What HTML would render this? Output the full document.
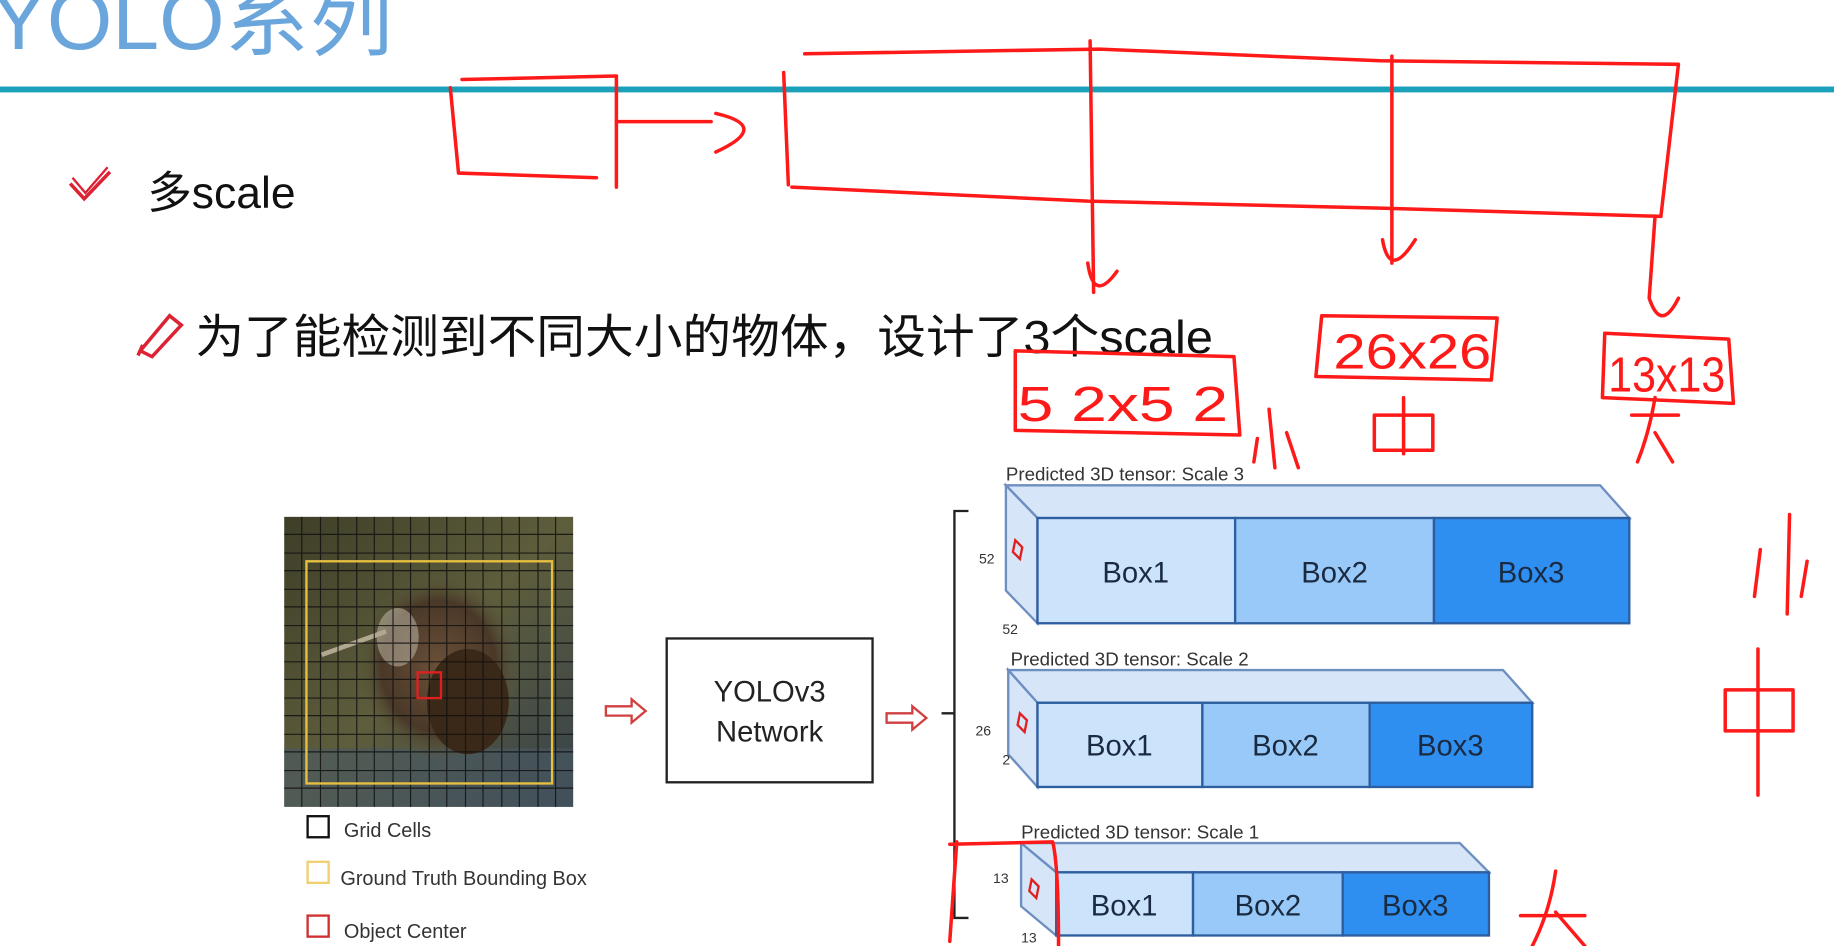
<!DOCTYPE html>
<html><head><meta charset="utf-8"><style>
html,body{margin:0;padding:0;background:#fff;}
svg{display:block;}
</style></head><body>
<svg width="1834" height="946" viewBox="0 0 1568 809" preserveAspectRatio="none" xmlns="http://www.w3.org/2000/svg" font-family="Liberation Sans, Noto Sans CJK SC, sans-serif">
<defs>
<linearGradient id="bg" x1="0" y1="0" x2="1" y2="1">
<stop offset="0" stop-color="#3e3e28"/><stop offset="0.5" stop-color="#5e5d3c"/><stop offset="1" stop-color="#34414c"/>
</linearGradient>
<radialGradient id="bird" cx="0.5" cy="0.5" r="0.5">
<stop offset="0" stop-color="#6a5038"/><stop offset="0.7" stop-color="#4a3828"/><stop offset="1" stop-color="#5e5d3c" stop-opacity="0"/>
</radialGradient>
</defs>
<rect width="1568" height="809" fill="#fff"/>
<!-- title -->
<text x="-8" y="42" font-size="72" fill="#6aa6dc" font-family="Liberation Sans Narrow, Liberation Sans, Noto Sans CJK SC, sans-serif">YOLO系列</text>
<rect x="0" y="74" width="1568" height="5" fill="#1aa0b8"/>
<!-- bullets -->
<path d="M60 157 L72 170 L94 147" fill="none" stroke="#d23" stroke-width="3"/>
<path d="M62 152 L73 165 L92 143" fill="none" stroke="#d23" stroke-width="2"/>
<text x="126" y="178" font-size="38" fill="#111">多scale</text>
<path d="M120 300 L145 270 L155 278 L130 305 Z M118 304 L122 295" fill="none" stroke="#d23" stroke-width="3"/>
<text x="167" y="302" font-size="40" fill="#111" textLength="870" lengthAdjust="spacingAndGlyphs">为了能检测到不同大小的物体，设计了3个scale</text>
<!-- bird image -->
<rect x="243" y="442" width="247" height="248" fill="url(#bg)"/>
<rect x="243" y="640" width="247" height="50" fill="#4a5a66" opacity="0.6"/>
<ellipse cx="375" cy="570" rx="70" ry="80" fill="url(#bird)"/>
<ellipse cx="340" cy="545" rx="18" ry="25" fill="#c8c0b0" opacity="0.5"/>
<ellipse cx="400" cy="600" rx="35" ry="45" fill="#3a2818"/>
<path d="M275 560 L330 540" stroke="#b0a890" stroke-width="4"/>
<g stroke="#111" stroke-width="1" opacity="0.85">
<path d="M258 442V690M274 442V690M289 442V690M305 442V690M320 442V690M336 442V690M351 442V690M367 442V690M382 442V690M398 442V690M413 442V690M429 442V690M444 442V690M460 442V690M475 442V690"/>
<path d="M243 457H490M243 473H490M243 488H490M243 504H490M243 519H490M243 535H490M243 550H490M243 566H490M243 581H490M243 597H490M243 612H490M243 628H490M243 643H490M243 659H490M243 674H490"/>
</g>
<rect x="262" y="480" width="210" height="190" fill="none" stroke="#e8c040" stroke-width="2"/>
<rect x="357" y="575" width="20" height="22" fill="none" stroke="#e02020" stroke-width="2"/>
<!-- legend -->
<rect x="263" y="698" width="18" height="18" fill="none" stroke="#111" stroke-width="2"/>
<text x="294" y="716" font-size="17" fill="#333">Grid Cells</text>
<rect x="263" y="737" width="18" height="18" fill="none" stroke="#f0d070" stroke-width="2"/>
<text x="291" y="757" font-size="17" fill="#333">Ground Truth Bounding Box</text>
<rect x="263" y="783" width="18" height="18" fill="none" stroke="#d03030" stroke-width="2"/>
<text x="294" y="802" font-size="17" fill="#333">Object Center</text>
<!-- arrows -->
<path d="M518 604H540V598L552 608L540 618V612H518Z" fill="none" stroke="#d04040" stroke-width="2"/>
<path d="M758 610H780V604L792 614L780 624V618H758Z" fill="none" stroke="#d04040" stroke-width="2"/>
<!-- network box -->
<rect x="570" y="546" width="176" height="123" fill="#fff" stroke="#222" stroke-width="2"/>
<text x="658" y="600" font-size="25" fill="#222" text-anchor="middle">YOLOv3</text>
<text x="658" y="634" font-size="25" fill="#222" text-anchor="middle">Network</text>
<!-- bracket -->
<path d="M828 437H816V785H828M816 610H805" fill="none" stroke="#222" stroke-width="2"/>
<!-- tensor 3 -->
<text x="860" y="411" font-size="16" fill="#333">Predicted 3D tensor: Scale 3</text>
<path d="M860 415H1368L1393 443H887Z" fill="#d6e6f8" stroke="#6c8ec0" stroke-width="2"/>
<path d="M860 415L887 443V533L860 505Z" fill="#d6e6f8" stroke="#6c8ec0" stroke-width="2"/>
<rect x="887" y="443" width="169" height="90" fill="#cce4fb" stroke="#2d5fa0" stroke-width="2"/>
<rect x="1056" y="443" width="170" height="90" fill="#99c9f8" stroke="#2d5fa0" stroke-width="2"/>
<rect x="1226" y="443" width="167" height="90" fill="#2f8ff0" stroke="#2d5fa0" stroke-width="2"/>
<text x="971" y="498" font-size="25" fill="#1a2a40" text-anchor="middle">Box1</text>
<text x="1141" y="498" font-size="25" fill="#1a2a40" text-anchor="middle">Box2</text>
<text x="1309" y="498" font-size="25" fill="#1a2a40" text-anchor="middle">Box3</text>
<path d="M868 462l6 6-2 10-6-6z" fill="none" stroke="#e02020" stroke-width="2"/>
<text x="837" y="482" font-size="12" fill="#333">52</text>
<text x="857" y="542" font-size="12" fill="#333">52</text>
<!-- tensor 2 -->
<text x="864" y="569" font-size="16" fill="#333">Predicted 3D tensor: Scale 2</text>
<path d="M862 573H1285L1310 601H887Z" fill="#d6e6f8" stroke="#6c8ec0" stroke-width="2"/>
<path d="M862 573L887 601V673L862 645Z" fill="#d6e6f8" stroke="#6c8ec0" stroke-width="2"/>
<rect x="887" y="601" width="141" height="72" fill="#cce4fb" stroke="#2d5fa0" stroke-width="2"/>
<rect x="1028" y="601" width="143" height="72" fill="#99c9f8" stroke="#2d5fa0" stroke-width="2"/>
<rect x="1171" y="601" width="139" height="72" fill="#2f8ff0" stroke="#2d5fa0" stroke-width="2"/>
<text x="957" y="646" font-size="25" fill="#1a2a40" text-anchor="middle">Box1</text>
<text x="1099" y="646" font-size="25" fill="#1a2a40" text-anchor="middle">Box2</text>
<text x="1240" y="646" font-size="25" fill="#1a2a40" text-anchor="middle">Box3</text>
<path d="M872 610l6 6-2 10-6-6z" fill="none" stroke="#e02020" stroke-width="2"/>
<text x="834" y="629" font-size="12" fill="#333">26</text>
<text x="857" y="654" font-size="12" fill="#333">2</text>
<!-- tensor 1 -->
<text x="873" y="717" font-size="16" fill="#333">Predicted 3D tensor: Scale 1</text>
<path d="M873 721H1248L1273 746H903Z" fill="#d6e6f8" stroke="#6c8ec0" stroke-width="2"/>
<path d="M873 721L903 746V800L873 775Z" fill="#d6e6f8" stroke="#6c8ec0" stroke-width="2"/>
<rect x="903" y="746" width="117" height="54" fill="#cce4fb" stroke="#2d5fa0" stroke-width="2"/>
<rect x="1020" y="746" width="128" height="54" fill="#99c9f8" stroke="#2d5fa0" stroke-width="2"/>
<rect x="1148" y="746" width="125" height="54" fill="#2f8ff0" stroke="#2d5fa0" stroke-width="2"/>
<text x="961" y="783" font-size="25" fill="#1a2a40" text-anchor="middle">Box1</text>
<text x="1084" y="783" font-size="25" fill="#1a2a40" text-anchor="middle">Box2</text>
<text x="1210" y="783" font-size="25" fill="#1a2a40" text-anchor="middle">Box3</text>
<path d="M882 752l6 6-2 10-6-6z" fill="none" stroke="#e02020" stroke-width="2"/>
<text x="849" y="755" font-size="12" fill="#333">13</text>
<text x="873" y="806" font-size="12" fill="#333">13</text>
<!-- red annotations -->
<g fill="none" stroke="#ff1a1a" stroke-width="3" stroke-linecap="round" stroke-linejoin="round">
<path d="M395 68L527 65L527 160M385 75L392 148L510 152"/>
<path d="M527 104H608M612 97Q660 108 612 130"/>
<path d="M670 62L674 158"/>
<path d="M688 46L940 42L1180 52L1435 55L1420 185"/>
<path d="M677 160L930 172L1180 178L1420 185"/>
<path d="M932 35L935 250M930 225Q935 260 955 232"/>
<path d="M1190 48V225M1182 205Q1188 240 1210 205"/>
<path d="M1415 185L1410 255Q1420 285 1435 255"/>
<path d="M868 300L1055 305L1060 372L868 368Z"/>
<path d="M1130 270L1280 272L1275 325L1125 322Z"/>
<path d="M1372 285L1478 290L1482 345L1370 340Z"/>
<path d="M1530 440L1528 525M1505 470L1500 510M1545 480L1540 510"/>
<path d="M1475 590V625M1475 590H1533V625H1475M1503 555V680"/>
<path d="M1300 783H1355M1330 745Q1325 780 1310 809M1330 780L1355 809"/>
<path d="M812 722L900 720Q905 740 905 809M818 720L812 805"/>
<path d="M1085 350L1090 400M1075 375L1072 395M1100 370L1110 400"/>
<path d="M1175 355V385H1225V355H1175M1200 340V388"/>
<path d="M1395 355H1435M1415 340Q1410 370 1400 395M1415 370L1430 395"/>
</g>
<g fill="#ff1a1a" font-size="42" font-family="Liberation Sans Narrow, Liberation Sans, sans-serif">
<text x="870" y="360" textLength="180" lengthAdjust="spacingAndGlyphs">5 2x5 2</text>
<text x="1140" y="315" textLength="135" lengthAdjust="spacingAndGlyphs">26x26</text>
<text x="1375" y="335" textLength="100" lengthAdjust="spacingAndGlyphs">13x13</text>
</g>
</svg>
</body></html>
